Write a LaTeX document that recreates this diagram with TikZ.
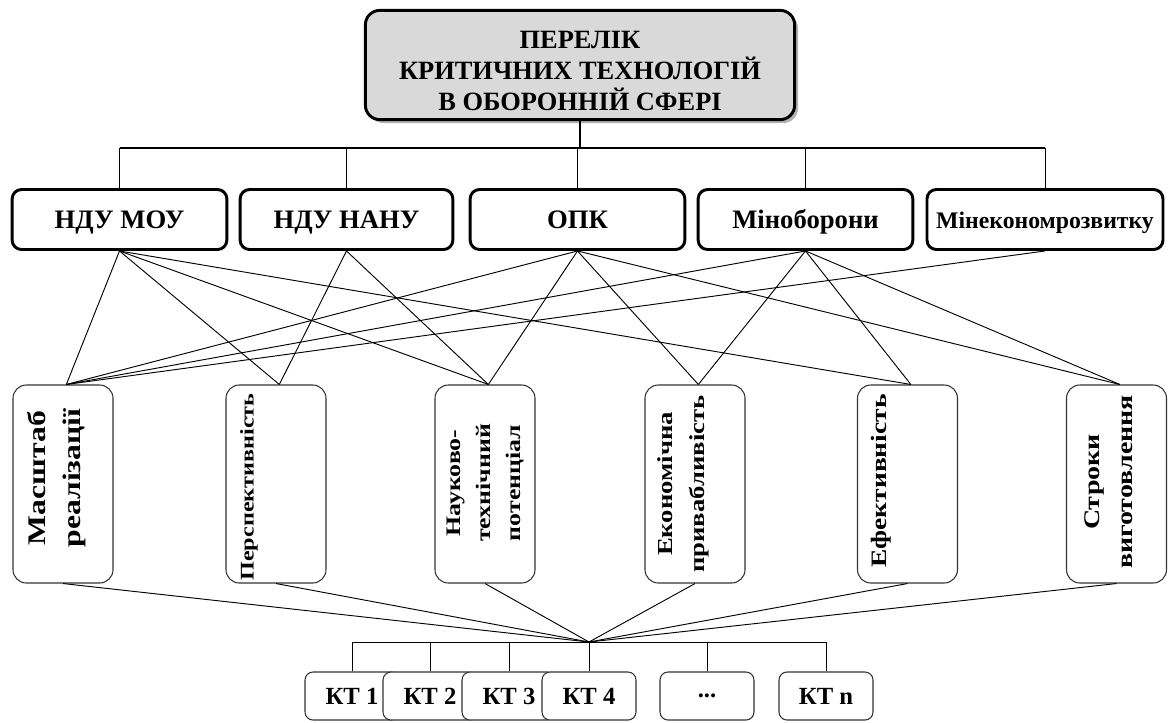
\documentclass[tikz,border=0pt]{standalone}
\usepackage{fontspec}
\setmainfont{Liberation Serif}
\newfontfamily\critfont[FakeStretch=1.25]{Liberation Serif}
\usetikzlibrary{shadows}
\definecolor{topgray}{RGB}{217,217,217}
\tikzset{
 topbox/.style={draw, line width=2.2pt, rounded corners=11pt, fill=topgray,
   minimum width=322pt, minimum height=82pt, inner sep=0pt,
   drop shadow={shadow xshift=2.5pt, shadow yshift=-2.5pt, fill=black!60}},
 toptext/.style={align=center, inner sep=0pt,
   font=\bfseries\fontsize{19.8}{23}\selectfont},
 orgbox/.style={draw, line width=2.2pt, rounded corners=7pt, minimum height=45pt,
   inner sep=0pt, text height=15pt, text depth=1pt,
   font=\bfseries\fontsize{20}{22}\selectfont},
 critbox/.style={draw=black!80, line width=0.8pt, rounded corners=10pt,
   minimum width=75pt, minimum height=148.5pt},
 crittext/.style={rotate=90, anchor=north, inner sep=0pt, align=center,
   font=\critfont\bfseries\fontsize{18.5}{26}\selectfont},
 ktbox/.style={draw=black!80, fill=white, line width=0.8pt, rounded corners=6pt,
   minimum width=70.5pt, minimum height=36pt, inner sep=0pt,
   font=\bfseries\fontsize{18.5}{20}\selectfont},
 link/.style={line width=0.7pt},
 trunk/.style={line width=1.2pt},
}
\begin{document}
\begin{tikzpicture}[x=0.75pt,y=-0.75pt]
\useasboundingbox (0,0) rectangle (1168,722);
% top
\node[topbox] (top) at (580,65) {};
\node[toptext] (toptxt) at (580,71) {ПЕРЕЛІК\\КРИТИЧНИХ ТЕХНОЛОГІЙ\\В ОБОРОННІЙ СФЕРІ};
% row 2
\node[orgbox, minimum width=161pt] (m1) at (119.5,219.5) {НДУ МОУ};
\node[orgbox, minimum width=159.5pt] (m2) at (346.5,219.5) {НДУ НАНУ};
\node[orgbox, minimum width=161pt] (m3) at (577.5,219.5) {ОПК};
\node[orgbox, minimum width=161pt] (m4) at (805.5,219.5) {Міноборони};
\node[orgbox, minimum width=177pt, font=\bfseries\fontsize{17.8}{20}\selectfont] (m5) at (1045,219.5) {Мінекономрозвитку};
\coordinate (bar) at (578,148);
\draw[trunk] (top.south) -- (top.south |- bar);
\draw[trunk] (m1.north |- bar) -- (m5.north |- bar);
\foreach \m in {m1,m2,m3,m4,m5} \draw[link] (\m.north |- bar) -- (\m.north);
% criteria
\node[critbox] (c1) at (63,484) {};
\node[critbox] (c2) at (276,484) {};
\node[critbox] (c3) at (485,484) {};
\node[critbox] (c4) at (695,484) {};
\node[critbox] (c5) at (907.5,484) {};
\node[critbox] (c6) at (1116.5,484) {};
\node[crittext, font=\critfont\bfseries\fontsize{19}{26.5}\selectfont] (t1) at (27,478) {Масштаб\\реалізації};
\node[crittext, font=\critfont\bfseries\fontsize{14.5}{22}\selectfont] (t2) at (240,487) {Перспективність};
\node[crittext, font=\critfont\bfseries\fontsize{15.5}{22.5}\selectfont] (t3) at (447,483) {Науково-\\технічний\\потенціал};
\node[crittext, font=\critfont\bfseries\fontsize{16}{24}\selectfont] (t4) at (657,484) {Економічна\\привабливість};
\node[crittext, font=\critfont\bfseries\fontsize{16.5}{24}\selectfont] (t5) at (871,481) {Ефективність};
\node[crittext, font=\critfont\bfseries\fontsize{16.8}{25}\selectfont] (t6) at (1084,482) {Строки\\виготовлення};
% links row 2 -> criteria
\foreach \a/\b in {m1/c1,m1/c2,m1/c3,m1/c5,
                   m2/c2,m2/c3,
                   m3/c1,m3/c3,m3/c4,m3/c6,
                   m4/c1,m4/c4,m4/c5,m4/c6,
                   m5/c1}
  \draw[link] (\a.south) -- ([xshift=2.5pt]\b.north);
% hub
\coordinate (hub) at (589,642);
\foreach \c in {c1,c2,c3,c4,c5,c6} \draw[link] (\c.south) -- (hub);
% KT boxes
\node[ktbox] (kt1) at (352,696) {КТ 1};
\node[ktbox] (kt2) at (430,696) {КТ 2};
\node[ktbox] (kt3) at (509,696) {КТ 3};
\node[ktbox] (kt4) at (589,696) {КТ 4};
\node[ktbox] (kt5) at (707,696) {...};
\node[ktbox] (ktn) at (826,696) {КТ n};
\draw[link] (kt1.north |- hub) -- (ktn.north |- hub);
\foreach \k in {kt1,kt2,kt3,kt4,kt5,ktn} \draw[link] (\k.north |- hub) -- (\k.north);
\end{tikzpicture}
\end{document}
